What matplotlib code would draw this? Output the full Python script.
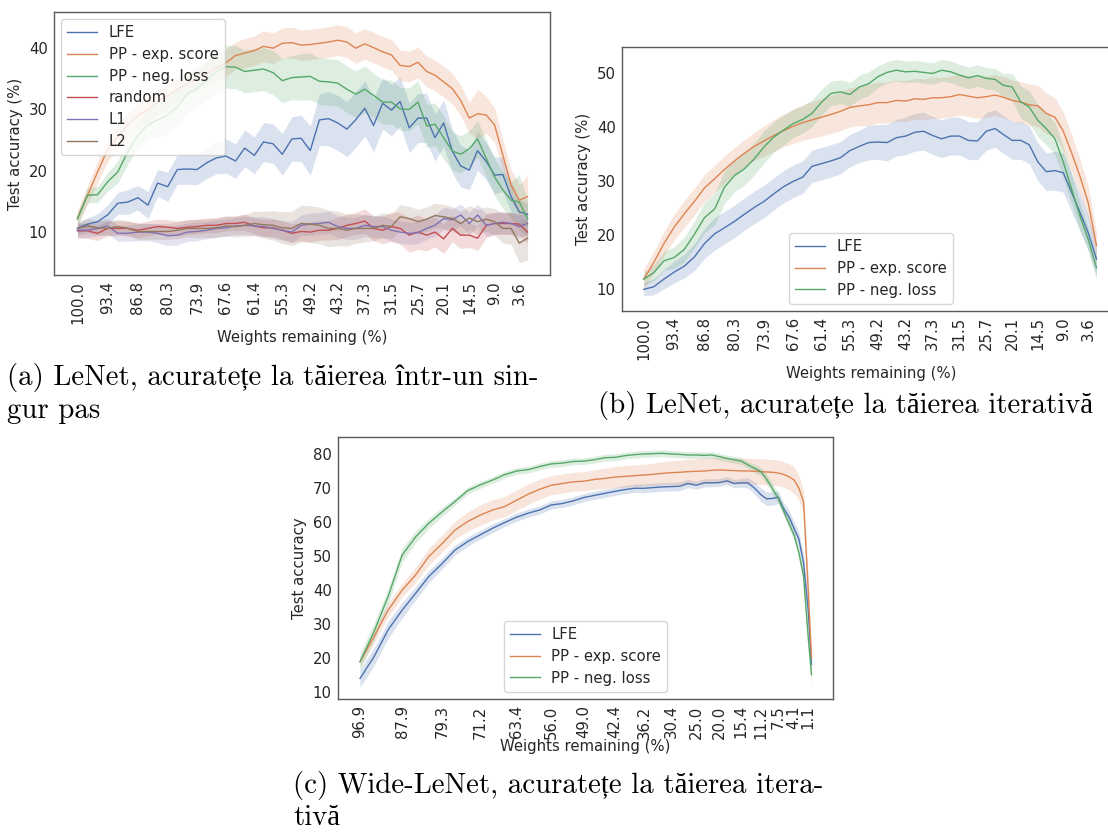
import matplotlib
matplotlib.use('Agg')
import matplotlib.pyplot as plt
from matplotlib.ticker import MultipleLocator

colors = ['#4C72B0', '#DD8452', '#55A868', '#C44E52', '#8172B3', '#937860']
labels = ['LFE', 'PP - exp. score', 'PP - neg. loss', 'random', 'L1', 'L2']

# weights remaining (%) at each pruning step
x_lenet = [100.0, 97.8, 95.6, 93.4, 91.2, 89.0, 86.8, 84.6, 82.5, 80.3,
           78.2, 76.0, 73.9, 71.8, 69.7, 67.6, 65.5, 63.5, 61.4, 59.4,
           57.3, 55.3, 53.2, 51.2, 49.2, 47.2, 45.2, 43.2, 41.2, 39.3,
           37.3, 35.4, 33.4, 31.5, 29.6, 27.6, 25.7, 23.8, 22.0, 20.1,
           18.2, 16.4, 14.5, 12.7, 10.8, 9.0, 7.2, 5.4, 3.6, 1.8]
x_wide = [96.9, 93.9, 90.9, 87.9, 85.0, 82.2, 79.3, 76.6, 73.9, 71.2,
          68.6, 66.0, 63.4, 60.9, 58.5, 56.0, 53.7, 51.3, 49.0, 46.8,
          44.6, 42.4, 40.3, 38.3, 36.2, 34.3, 32.3, 30.4, 28.6, 26.8,
          25.0, 23.3, 21.7, 20.0, 18.5, 16.9, 15.4, 14.0, 12.6, 11.2,
          10.0, 8.7, 7.5, 6.4, 5.2, 4.1, 3.1, 2.1, 1.1, 0.4]

# (a) LeNet, one-shot pruning
lfe_a = [10.6, 11.3, 11.7, 12.8, 14.7, 14.9, 15.6, 14.4, 18.0, 17.4,
         20.2, 20.3, 20.2, 21.3, 22.1, 22.4, 21.6, 23.7, 22.5, 24.7,
         24.4, 22.7, 25.2, 25.3, 23.3, 28.3, 28.5, 27.8, 26.8, 28.3,
         30.2, 27.4, 31.0, 29.9, 31.3, 27.0, 28.6, 28.6, 25.4, 27.8,
         23.2, 20.8, 20.1, 23.3, 21.5, 19.3, 19.4, 15.8, 13.3, 12.9]
lfe_a_err = [0.8, 1.0, 1.3, 1.6, 1.8, 2.0, 2.0, 2.2, 2.2, 2.4,
             2.4, 2.5, 2.5, 2.6, 2.6, 2.8, 2.8, 3.0, 3.0, 3.2,
             3.2, 3.4, 3.6, 3.8, 4.0, 4.2, 4.4, 4.5, 4.5, 4.5,
             4.5, 4.3, 4.2, 4.2, 4.0, 4.0, 4.0, 4.0, 3.8, 3.8,
             3.6, 3.4, 3.2, 3.2, 3.0, 3.0, 2.8, 2.5, 2.0, 1.8]
exp_a = [12.3, 16.0, 19.8, 23.5, 25.5, 27.5, 29.0, 30.0, 31.2, 32.2,
         33.3, 34.2, 35.0, 35.8, 36.8, 37.6, 38.8, 39.2, 39.6, 40.3,
         40.0, 40.8, 40.9, 40.5, 40.6, 40.8, 41.0, 41.3, 41.0, 40.0,
         40.7, 40.1, 39.4, 38.9, 37.2, 37.0, 37.7, 36.2, 35.6, 34.5,
         33.4, 31.5, 28.6, 29.3, 29.1, 27.5, 22.6, 17.7, 15.2, 15.8]
exp_a_err = [1.2, 1.5, 1.8, 2.0, 2.0, 2.0, 2.0, 2.0, 2.0, 2.0,
             2.0, 2.0, 2.0, 2.0, 2.2, 2.2, 2.2, 2.4, 2.4, 2.5,
             2.5, 2.5, 2.5, 2.5, 2.5, 2.5, 2.5, 2.5, 2.5, 2.5,
             2.5, 2.5, 2.5, 2.5, 2.5, 2.5, 2.5, 2.5, 2.5, 2.5,
             2.5, 2.5, 2.5, 4.0, 3.0, 2.8, 2.5, 2.5, 2.5, 3.5]
neg_a = [12.1, 16.0, 16.1, 18.2, 19.8, 23.1, 25.8, 27.5, 28.3, 29.1,
         30.4, 32.6, 33.4, 34.8, 36.2, 37.0, 36.9, 36.2, 36.4, 36.6,
         36.0, 34.7, 35.2, 35.3, 35.4, 34.6, 34.5, 34.3, 33.3, 32.5,
         33.3, 32.3, 31.2, 31.2, 30.1, 30.0, 31.2, 27.3, 27.6, 25.4,
         23.2, 22.7, 23.6, 25.2, 22.0, 19.0, 16.9, 15.2, 14.9, 12.2]
neg_a_err = [1.0, 1.2, 1.3, 1.5, 1.8, 2.0, 2.2, 2.5, 2.8, 3.0,
             3.0, 3.0, 3.0, 3.2, 3.4, 3.5, 3.5, 3.5, 3.5, 3.5,
             3.6, 3.6, 3.6, 3.8, 3.8, 3.8, 3.8, 3.8, 3.8, 3.8,
             3.8, 3.6, 3.6, 3.6, 3.5, 3.5, 3.5, 3.5, 3.5, 3.5,
             3.2, 3.0, 3.0, 3.0, 3.0, 3.0, 3.0, 3.0, 4.5, 3.0]
random_a = [10.2, 10.2, 9.8, 10.6, 10.6, 10.6, 10.3, 10.6, 10.9, 10.8,
            10.6, 10.8, 10.9, 11.1, 11.1, 11.4, 11.4, 11.6, 11.0, 10.7,
            10.7, 10.3, 9.8, 10.1, 10.0, 10.3, 10.3, 10.6, 11.1, 11.4,
            11.8, 10.6, 10.3, 10.9, 10.6, 9.5, 10.0, 9.5, 10.0, 8.9,
            10.6, 9.5, 9.5, 9.0, 11.1, 11.4, 11.4, 11.4, 11.3, 10.0]
random_a_err = [1.2, 1.2, 1.2, 1.2, 1.2, 1.2, 1.2, 1.2, 1.2, 1.2,
                1.2, 1.2, 1.2, 1.2, 1.2, 1.2, 1.2, 1.3, 1.3, 1.4,
                1.4, 1.5, 1.5, 1.5, 1.6, 1.6, 1.6, 1.8, 1.8, 1.8,
                2.0, 2.0, 2.2, 2.4, 2.6, 2.8, 2.8, 2.6, 2.4, 2.4,
                2.2, 2.2, 2.0, 2.0, 2.0, 1.8, 1.8, 1.8, 1.8, 1.8]
l1_a = [10.3, 10.3, 10.6, 11.0, 9.8, 9.8, 10.0, 10.0, 9.8, 9.4,
        9.5, 10.0, 10.1, 10.3, 10.6, 10.7, 11.0, 11.1, 11.0, 10.9,
        10.6, 10.3, 10.0, 11.1, 11.3, 11.4, 11.6, 10.9, 10.6, 10.6,
        11.1, 10.9, 10.9, 10.3, 10.0, 9.8, 9.9, 10.6, 11.1, 12.2,
        12.0, 12.8, 11.4, 12.8, 11.1, 11.4, 11.6, 11.4, 10.9, 11.4]
l1_a_err = [1.2, 1.2, 1.2, 1.3, 1.3, 1.3, 1.4, 1.4, 1.5, 1.6,
            1.6, 1.5, 1.5, 1.4, 1.4, 1.4, 1.4, 1.5, 1.5, 1.6,
            1.6, 1.6, 1.7, 1.7, 1.8, 1.8, 1.8, 1.8, 1.8, 1.8,
            1.8, 1.8, 1.8, 1.8, 1.8, 1.8, 1.8, 1.8, 1.8, 1.8,
            1.8, 1.8, 1.8, 1.8, 1.8, 1.8, 1.8, 1.8, 1.8, 1.8]
l2_a = [10.6, 11.0, 10.7, 10.6, 10.9, 10.6, 10.1, 10.1, 10.1, 10.1,
        10.3, 10.6, 10.6, 10.6, 10.7, 11.0, 10.9, 11.1, 11.4, 11.2,
        11.1, 10.7, 10.6, 11.4, 11.3, 11.1, 10.6, 10.6, 10.3, 10.6,
        10.6, 10.6, 11.1, 10.9, 12.5, 12.2, 11.7, 12.1, 12.7, 12.5,
        12.2, 11.4, 12.3, 11.7, 12.1, 11.7, 10.6, 10.6, 8.2, 9.0]
l2_a_err = [1.2, 1.2, 1.2, 1.2, 1.2, 1.2, 1.3, 1.3, 1.3, 1.3,
            1.4, 1.4, 1.5, 1.5, 1.6, 1.6, 1.7, 1.8, 2.0, 2.2,
            2.4, 2.6, 2.8, 3.0, 3.0, 3.0, 3.0, 2.8, 2.6, 2.4,
            2.2, 2.0, 2.0, 2.0, 2.0, 2.0, 2.0, 2.0, 2.0, 2.0,
            2.0, 2.0, 2.0, 2.0, 2.0, 2.2, 2.4, 2.6, 3.2, 3.5]

# (b) LeNet, iterative pruning
lfe_b = [10.0, 10.5, 11.9, 13.2, 14.3, 16.0, 18.5, 20.3, 21.4, 22.6,
         23.9, 25.2, 26.3, 27.7, 29.0, 30.0, 30.8, 32.8, 33.3, 33.8,
         34.4, 35.7, 36.5, 37.2, 37.3, 37.2, 38.1, 38.4, 39.1, 39.3,
         38.5, 37.9, 38.4, 38.4, 37.6, 37.5, 39.3, 39.8, 38.7, 37.6,
         37.6, 36.8, 33.6, 31.8, 32.0, 31.6, 28.0, 24.3, 20.5, 15.6]
lfe_b_err = [1.2, 1.5, 1.8, 2.0, 2.2, 2.5, 2.8, 3.0, 3.0, 3.0,
             3.0, 3.0, 3.0, 3.0, 3.0, 3.0, 3.0, 3.0, 3.0, 3.0,
             3.0, 3.0, 3.0, 3.2, 3.2, 3.4, 3.4, 3.5, 3.5, 3.5,
             3.5, 3.5, 3.5, 3.5, 3.5, 3.5, 3.5, 3.5, 3.5, 3.5,
             3.5, 3.5, 3.5, 3.5, 3.6, 3.6, 3.6, 3.5, 3.2, 3.0]
exp_b = [11.9, 15.0, 18.5, 21.5, 24.0, 26.3, 28.8, 30.5, 32.2, 33.8,
         35.2, 36.5, 37.5, 38.5, 39.4, 40.2, 40.9, 41.4, 41.9, 42.4,
         43.0, 43.7, 44.0, 44.2, 44.6, 44.6, 45.0, 44.9, 45.3, 45.2,
         45.5, 45.5, 45.7, 46.1, 45.8, 45.5, 45.7, 46.0, 45.6, 45.0,
         44.7, 44.2, 44.0, 42.6, 41.9, 39.3, 35.3, 31.0, 26.1, 18.1]
exp_b_err = [1.8, 2.0, 2.2, 2.4, 2.5, 2.5, 2.5, 2.5, 2.5, 2.5,
             2.5, 2.6, 2.8, 3.0, 3.0, 3.2, 3.3, 3.4, 3.5, 3.5,
             3.6, 3.6, 3.7, 3.8, 3.8, 3.8, 3.8, 3.8, 3.8, 3.8,
             3.8, 3.8, 3.8, 3.8, 3.8, 3.8, 3.8, 3.8, 3.8, 3.8,
             3.8, 3.8, 3.8, 3.8, 3.6, 3.5, 3.4, 3.2, 3.0, 2.5]
neg_b = [11.9, 13.1, 15.3, 15.9, 17.4, 20.2, 23.3, 24.9, 28.9, 31.1,
         32.3, 34.2, 36.4, 38.2, 39.5, 40.7, 41.5, 42.6, 44.7, 46.3,
         46.6, 46.1, 47.5, 48.1, 49.4, 50.2, 50.6, 50.3, 50.4, 50.2,
         50.0, 50.6, 50.3, 49.7, 49.2, 49.6, 49.1, 48.9, 47.8, 47.5,
         44.7, 43.8, 41.3, 39.8, 37.9, 33.6, 28.6, 23.6, 19.3, 14.0]
neg_b_err = [1.2, 1.5, 1.8, 2.0, 2.3, 2.5, 2.8, 3.0, 3.0, 3.0,
             3.0, 3.0, 3.0, 2.8, 2.8, 2.6, 2.5, 2.5, 2.4, 2.3,
             2.2, 2.2, 2.2, 2.2, 2.0, 2.0, 2.0, 2.0, 2.0, 2.0,
             2.0, 2.0, 2.0, 2.0, 2.0, 2.0, 2.0, 2.0, 2.2, 2.5,
             3.0, 3.0, 3.0, 3.0, 3.0, 3.0, 2.8, 2.5, 2.2, 2.2]

# (c) Wide-LeNet, iterative pruning
lfe_c = [13.9, 20.3, 28.2, 34.0, 39.0, 43.9, 47.8, 51.7, 54.2, 56.2,
         58.1, 59.8, 61.4, 62.6, 63.5, 65.0, 65.4, 66.2, 67.2, 67.8,
         68.4, 69.0, 69.5, 69.9, 69.9, 70.1, 70.3, 70.4, 70.5, 71.3,
         70.8, 71.5, 71.5, 71.6, 72.1, 71.3, 71.5, 71.5, 70.0, 68.0,
         66.8, 66.9, 67.3, 64.0, 61.5, 58.0, 55.0, 48.0, 34.0, 18.0]
lfe_c_err = [2.7, 2.6, 2.5, 2.3, 2.0, 1.8, 1.6, 1.5, 1.4, 1.3,
             1.3, 1.2, 1.2, 1.2, 1.2, 1.2, 1.2, 1.2, 1.2, 1.2,
             1.2, 1.2, 1.2, 1.2, 1.3, 1.3, 1.3, 1.3, 1.3, 1.2,
             1.2, 1.2, 1.2, 1.2, 1.2, 1.2, 1.3, 1.5, 1.8, 2.0,
             2.0, 2.0, 1.8, 1.8, 2.0, 2.0, 2.0, 2.5, 3.0, 3.0]
exp_c = [18.8, 26.2, 34.0, 39.9, 44.4, 49.8, 53.7, 57.6, 60.1, 62.0,
         63.5, 64.5, 66.4, 68.2, 69.6, 70.8, 71.3, 71.8, 72.0, 72.5,
         72.8, 73.2, 73.4, 73.6, 73.8, 74.0, 74.3, 74.5, 74.6, 74.8,
         74.9, 75.0, 75.2, 75.3, 75.2, 75.1, 75.0, 75.0, 74.9, 74.8,
         74.7, 74.6, 74.4, 74.0, 73.3, 72.3, 70.0, 66.0, 40.0, 20.0]
exp_c_err = [1.5, 1.8, 2.0, 2.0, 2.3, 2.5, 2.5, 2.6, 2.8, 3.0,
             3.0, 3.0, 3.0, 3.0, 2.9, 2.8, 2.8, 2.8, 2.8, 2.9,
             3.0, 3.1, 3.2, 3.2, 3.2, 3.3, 3.4, 3.5, 3.6, 3.6,
             3.7, 3.8, 3.8, 3.8, 3.8, 3.8, 3.8, 3.8, 3.8, 3.8,
             3.8, 3.8, 3.8, 3.8, 3.8, 4.0, 3.5, 3.5, 4.0, 2.0]
neg_c = [18.8, 27.7, 38.0, 50.2, 55.6, 59.6, 63.0, 66.0, 69.2, 70.9,
         72.3, 73.9, 75.0, 75.4, 76.3, 77.1, 77.3, 77.8, 77.9, 78.3,
         78.9, 79.0, 79.5, 79.8, 80.0, 80.1, 80.2, 80.0, 79.9, 79.7,
         79.7, 79.6, 79.7, 79.2, 78.7, 78.3, 77.9, 76.8, 75.8, 74.8,
         72.6, 69.7, 66.9, 63.4, 59.5, 56.0, 51.0, 44.0, 26.0, 15.0]
neg_c_err = [2.5, 2.5, 2.2, 2.0, 1.8, 1.5, 1.3, 1.1, 1.0, 1.0,
             1.0, 1.0, 1.0, 1.0, 1.0, 1.0, 1.0, 1.0, 1.0, 1.0,
             1.0, 1.0, 1.0, 1.0, 1.0, 1.0, 1.0, 1.0, 1.0, 1.0,
             1.0, 1.0, 1.0, 1.0, 1.0, 1.0, 1.0, 1.0, 1.2, 1.3,
             1.5, 1.5, 1.5, 1.5, 1.5, 1.5, 1.8, 2.0, 3.0, 3.0]

captions = [
    ('(a) LeNet, acuratețe la tăierea într-un sin-', 7, 385),
    ('gur pas', 7, 418),
    ('(b) LeNet, acuratețe la tăierea iterativă', 598, 413),
    ('(c) Wide-LeNet, acuratețe la tăierea itera-', 293, 793),
    ('tivă', 293, 825),
]

W, H = 1108, 838
FS = 10.7


def panel(ax, x, series, xlim, ylim, ylabel, legend_loc, xlabelpad):
    for j, (mean, err) in enumerate(series):
        lo = [m - e for m, e in zip(mean, err)]
        hi = [m + e for m, e in zip(mean, err)]
        ax.plot(x, mean, color=colors[j], lw=1.0, label=labels[j])
        ax.fill_between(x, lo, hi, color=colors[j], alpha=0.2, lw=0)
    ax.set_xticks(x[::3])
    ax.set_xticklabels(['%.1f' % v for v in x[::3]], rotation=90)
    ax.yaxis.set_major_locator(MultipleLocator(10))
    ax.set_xlim(xlim)
    ax.set_ylim(ylim)
    ax.tick_params(length=0, labelsize=FS, colors='0.15', pad=4.5)
    for sp in ax.spines.values():
        sp.set_color('0.35')
        sp.set_linewidth(1.0)
    ax.set_xlabel('Weights remaining (%)', fontsize=FS, color='0.15',
                  labelpad=xlabelpad)
    ax.set_ylabel(ylabel, fontsize=FS, color='0.15', labelpad=4)
    leg = ax.legend(loc=legend_loc, fontsize=FS, frameon=True,
                    framealpha=0.8, edgecolor='0.8', handlelength=2.0,
                    labelspacing=0.45, borderpad=0.4)
    for t in leg.get_texts():
        t.set_color('0.15')


fig = plt.figure(figsize=(W / 100, H / 100), dpi=100)

ax_a = fig.add_axes([54 / W, 1 - 275 / H, 496 / W, 263 / H])
panel(ax_a, x_lenet,
      [(lfe_a, lfe_a_err), (exp_a, exp_a_err), (neg_a, neg_a_err),
       (random_a, random_a_err), (l1_a, l1_a_err), (l2_a, l2_a_err)],
      (105.1, -3.1), (3.0, 45.9), 'Test accuracy (%)', 'upper left', 4)

ax_b = fig.add_axes([622 / W, 1 - 311 / H, 498 / W, 264 / H])
panel(ax_b, x_lenet,
      [(lfe_b, lfe_b_err), (exp_b, exp_b_err), (neg_b, neg_b_err)],
      (104.7, -3.3), (6.0, 54.9), 'Test accuracy (%)', 'lower center', 4)

ax_c = fig.add_axes([338 / W, 1 - 699 / H, 495 / W, 262 / H])
panel(ax_c, x_wide,
      [(lfe_c, lfe_c_err), (exp_c, exp_c_err), (neg_c, neg_c_err)],
      (101.6, -4.2), (7.85, 85.0), 'Test accuracy', 'lower center', 0)

# captions in Computer Modern; Romanian letters fall back to Liberation Serif
for text, px, py in captions:
    fig.text(px / W, 1 - py / H, text, fontsize=20.8,
             family=['cmr10', 'Liberation Serif'], ha='left',
             va='baseline', color='black')

fig.savefig('out.png', dpi=100)
